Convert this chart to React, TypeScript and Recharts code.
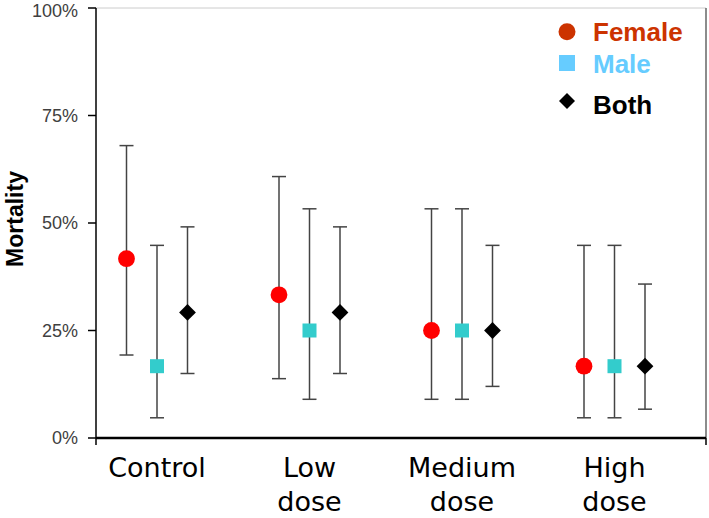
import {
  ScatterChart, Scatter, XAxis, YAxis, ErrorBar, Legend, ReferenceLine,
} from 'recharts';

const categories = ['Control', 'Low dose', 'Medium dose', 'High dose'];
const yTicks = [0, 25, 50, 75, 100];

const femaleMortality = [41.7, 33.3, 25, 16.7];
const femaleLower = [19.3, 13.8, 9, 4.7];
const femaleUpper = [68, 60.8, 53.3, 44.8];

const maleMortality = [16.7, 25, 25, 16.7];
const maleLower = [4.7, 9, 9, 4.7];
const maleUpper = [44.8, 53.3, 53.3, 44.8];

const bothMortality = [29.2, 29.2, 25, 16.7];
const bothLower = [15, 15, 12, 6.7];
const bothUpper = [49.1, 49.1, 44.8, 35.8];

const X_MIN = -0.4;
const X_MAX = 3.6;

function buildSeries(values: number[], lower: number[], upper: number[], shift: number) {
  return values.map((v, i) => ({
    x: i + shift,
    y: v,
    err: [v - lower[i], upper[i] - v],
  }));
}

const femaleData = buildSeries(femaleMortality, femaleLower, femaleUpper, -0.2);
const maleData = buildSeries(maleMortality, maleLower, maleUpper, 0);
const bothData = buildSeries(bothMortality, bothLower, bothUpper, 0.2);

function CircleShape({ cx, cy }: { cx?: number; cy?: number }) {
  return <circle cx={cx} cy={cy} r={8.4} fill="#ff0000" />;
}

function SquareShape({ cx = 0, cy = 0 }: { cx?: number; cy?: number }) {
  return <rect x={cx - 7} y={cy - 7} width={14} height={14} fill="#33cccc" />;
}

function DiamondShape({ cx = 0, cy = 0 }: { cx?: number; cy?: number }) {
  const r = 8.4;
  return <polygon points={`${cx},${cy - r} ${cx + r},${cy} ${cx},${cy + r} ${cx - r},${cy}`} fill="#000" />;
}

function CategoryTick({ x = 0, y = 0, payload }: { x?: number; y?: number; payload?: { value: number } }) {
  const v = payload?.value ?? 0;
  if (!Number.isInteger(v)) {
    return <line x1={x} y1={y - 8} x2={x} y2={y - 1} stroke="#000" strokeWidth={1.5} />;
  }
  const lines = categories[v].split(' ');
  return (
    <text x={x} y={y} textAnchor="middle" fontFamily="DejaVu Sans" fontSize={27} fill="#000">
      {lines.map((l, i) => (
        <tspan key={i} x={x} y={y + 31 + i * 34}>{l}</tspan>
      ))}
    </text>
  );
}

function LegendBox() {
  const font = { fontFamily: 'Liberation Sans', fontWeight: 700, fontSize: 26 };
  return (
    <svg width={159} height={110}>
      <circle cx={17} cy={21.7} r={8.5} fill="#cc3300" />
      <text x={43} y={31} fill="#cc3300" {...font}>Female</text>
      <rect x={9} y={45} width={16} height={16} fill="#66ccff" />
      <text x={43} y={63} fill="#66ccff" {...font}>Male</text>
      <polygon points="17,83 25,91 17,99 9,91" fill="#000" />
      <text x={43} y={103.5} fill="#000" {...font}>Both</text>
    </svg>
  );
}

export default function App() {
  return (
    <div style={{ position: 'absolute', left: 0, top: 0, background: '#fff' }}>
      <ScatterChart width={709} height={518} margin={{ top: 8, right: 3, left: 0, bottom: 0 }}>
        <XAxis
          type="number"
          dataKey="x"
          domain={[X_MIN, X_MAX]}
          allowDataOverflow
          ticks={[X_MIN, 0, 1, 2, 3, X_MAX]}
          interval={0}
          tick={<CategoryTick />}
          tickLine={false}
          axisLine={{ stroke: '#000', strokeWidth: 2.5 }}
          height={80}
        />
        <YAxis
          type="number"
          dataKey="y"
          domain={[0, 100]}
          ticks={yTicks}
          width={96}
          tickFormatter={(v: number) => `${v}%`}
          tick={{ fill: '#404040', fontSize: 18, fontFamily: 'Liberation Sans' }}
          tickSize={8}
          tickMargin={10}
          tickLine={{ stroke: '#000', strokeWidth: 1.5 }}
          axisLine={{ stroke: '#000', strokeWidth: 1.5 }}
          label={{
            content: ({ viewBox }: any) => {
              const cx = viewBox.x + 23;
              const cy = viewBox.y + viewBox.height / 2 - 4;
              return (
                <text
                  x={cx}
                  y={cy}
                  transform={`rotate(-90, ${cx}, ${cy})`}
                  textAnchor="middle"
                  fontFamily="Liberation Sans"
                  fontWeight={700}
                  fontSize={23}
                  fill="#000"
                >
                  Mortality
                </text>
              );
            },
          }}
        />
        <ReferenceLine y={100} stroke="#cccccc" strokeWidth={1} />
        <ReferenceLine x={X_MAX} stroke="#666666" strokeWidth={1.5} />
        <Legend
          layout="vertical"
          align="center"
          verticalAlign="middle"
          content={() => <LegendBox />}
          wrapperStyle={{ position: 'absolute', left: 550, top: 10, width: 159, height: 110 }}
        />
        <Scatter name="Female" data={femaleData} shape={<CircleShape />} isAnimationActive={false}>
          <ErrorBar dataKey="err" direction="y" width={7} stroke="#444" strokeWidth={1.5} />
        </Scatter>
        <Scatter name="Male" data={maleData} shape={<SquareShape />} isAnimationActive={false}>
          <ErrorBar dataKey="err" direction="y" width={7} stroke="#444" strokeWidth={1.5} />
        </Scatter>
        <Scatter name="Both" data={bothData} shape={<DiamondShape />} isAnimationActive={false}>
          <ErrorBar dataKey="err" direction="y" width={7} stroke="#444" strokeWidth={1.5} />
        </Scatter>
      </ScatterChart>
    </div>
  );
}
